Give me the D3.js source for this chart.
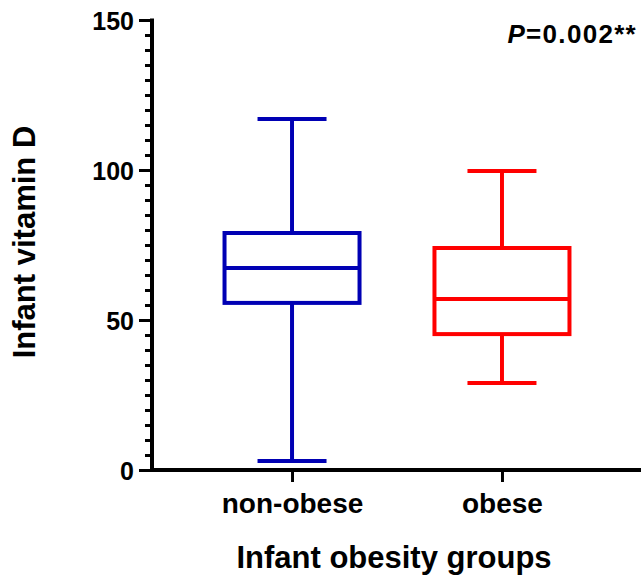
<!DOCTYPE html>
<html><head><meta charset="utf-8">
<script src="https://cdn.jsdelivr.net/npm/d3@7"></script>
<style>body{margin:0;background:#fff}</style>
</head><body>
<svg id="c" width="641" height="575"></svg>
<script>
const categories = ["non-obese", "obese"];
const colors = ["#0000b4", "#ff0000"];
const whiskerMin = [3, 29];
const q1 = [55.7, 45.3];
const median = [67.3, 57];
const q3 = [79, 74];
const whiskerMax = [117, 99.7];
const yTicks = [0, 50, 100, 150];

const svg = d3.select("#c");
const font = "Liberation Sans, Arial, sans-serif";
const y = d3.scaleLinear().domain([0, 150]).range([470, 20]);
const x = d3.scalePoint().domain(categories).range([152, 642]).padding(0.667);

const data = categories.map((c, i) => ({c, col: colors[i], lo: whiskerMin[i], q1: q1[i], med: median[i], q3: q3[i], hi: whiskerMax[i]}));
const boxW = 135, capW = 69;
const g = svg.append("g");
data.forEach(d => {
  const cx = x(d.c);
  const gg = g.append("g").attr("stroke", d.col).attr("stroke-width", 4).attr("fill", "none");
  gg.append("line").attr("x1", cx).attr("x2", cx).attr("y1", y(d.hi)).attr("y2", y(d.q3));
  gg.append("line").attr("x1", cx).attr("x2", cx).attr("y1", y(d.q1)).attr("y2", y(d.lo));
  gg.append("line").attr("x1", cx - capW/2).attr("x2", cx + capW/2).attr("y1", y(d.hi)).attr("y2", y(d.hi));
  gg.append("line").attr("x1", cx - capW/2).attr("x2", cx + capW/2).attr("y1", y(d.lo)).attr("y2", y(d.lo));
  gg.append("rect").attr("x", cx - boxW/2).attr("y", y(d.q3)).attr("width", boxW).attr("height", y(d.q1) - y(d.q3));
  gg.append("line").attr("x1", cx - boxW/2).attr("x2", cx + boxW/2).attr("y1", y(d.med)).attr("y2", y(d.med));
});

// y axis minor ticks
const yMinor = d3.range(0, 151, 5).filter(v => v % 50 !== 0);
const yAxisMinor = d3.axisLeft(y).tickValues(yMinor).tickSize(7).tickFormat("");
const gm = svg.append("g").attr("transform", "translate(152,0)").call(yAxisMinor);
gm.select(".domain").remove();
gm.selectAll(".tick line").attr("stroke", "#000").attr("stroke-width", 3);

const yAxis = d3.axisLeft(y).tickValues(yTicks).tickSize(13).tickPadding(5);
const gy = svg.append("g").attr("transform", "translate(152,0)").call(yAxis);
gy.select(".domain").remove();
gy.selectAll(".tick line").attr("stroke", "#000").attr("stroke-width", 3);
gy.selectAll(".tick text").attr("font-family", font).attr("font-weight", "bold").attr("font-size", 25).attr("fill", "#000").attr("dy", "0.36em");
svg.append("line").attr("x1", 152).attr("x2", 152).attr("y1", y(150) - 1.5).attr("y2", y(0) + 2).attr("stroke", "#000").attr("stroke-width", 4);

const xAxis = d3.axisBottom(x).tickSize(12).tickPadding(10);
const gx = svg.append("g").attr("transform", "translate(0,470)").call(xAxis);
gx.select(".domain").remove();
gx.selectAll(".tick line").attr("stroke", "#000").attr("stroke-width", 3);
gx.selectAll(".tick text").attr("font-family", font).attr("font-weight", "bold").attr("font-size", 28).attr("fill", "#000")
  .attr("y", 43).attr("dy", null);
svg.append("line").attr("x1", 150).attr("x2", 641).attr("y1", 470).attr("y2", 470).attr("stroke", "#000").attr("stroke-width", 4);

svg.append("text").attr("x", 394).attr("y", 568).attr("text-anchor", "middle")
  .attr("font-family", font).attr("font-weight", "bold").attr("font-size", 31).text("Infant obesity groups");
svg.append("text").attr("transform", "translate(35,242) rotate(-90)").attr("text-anchor", "middle")
  .attr("font-family", font).attr("font-weight", "bold").attr("font-size", 31).text("Infant vitamin D");
const pt = svg.append("text").attr("x", 637).attr("y", 43).attr("text-anchor", "end")
  .attr("font-family", font).attr("font-weight", "bold").attr("font-size", 26).attr("letter-spacing", 1.3);
pt.append("tspan").attr("font-style", "italic").text("P");
pt.append("tspan").text("=0.002**");
</script>
</body></html>
